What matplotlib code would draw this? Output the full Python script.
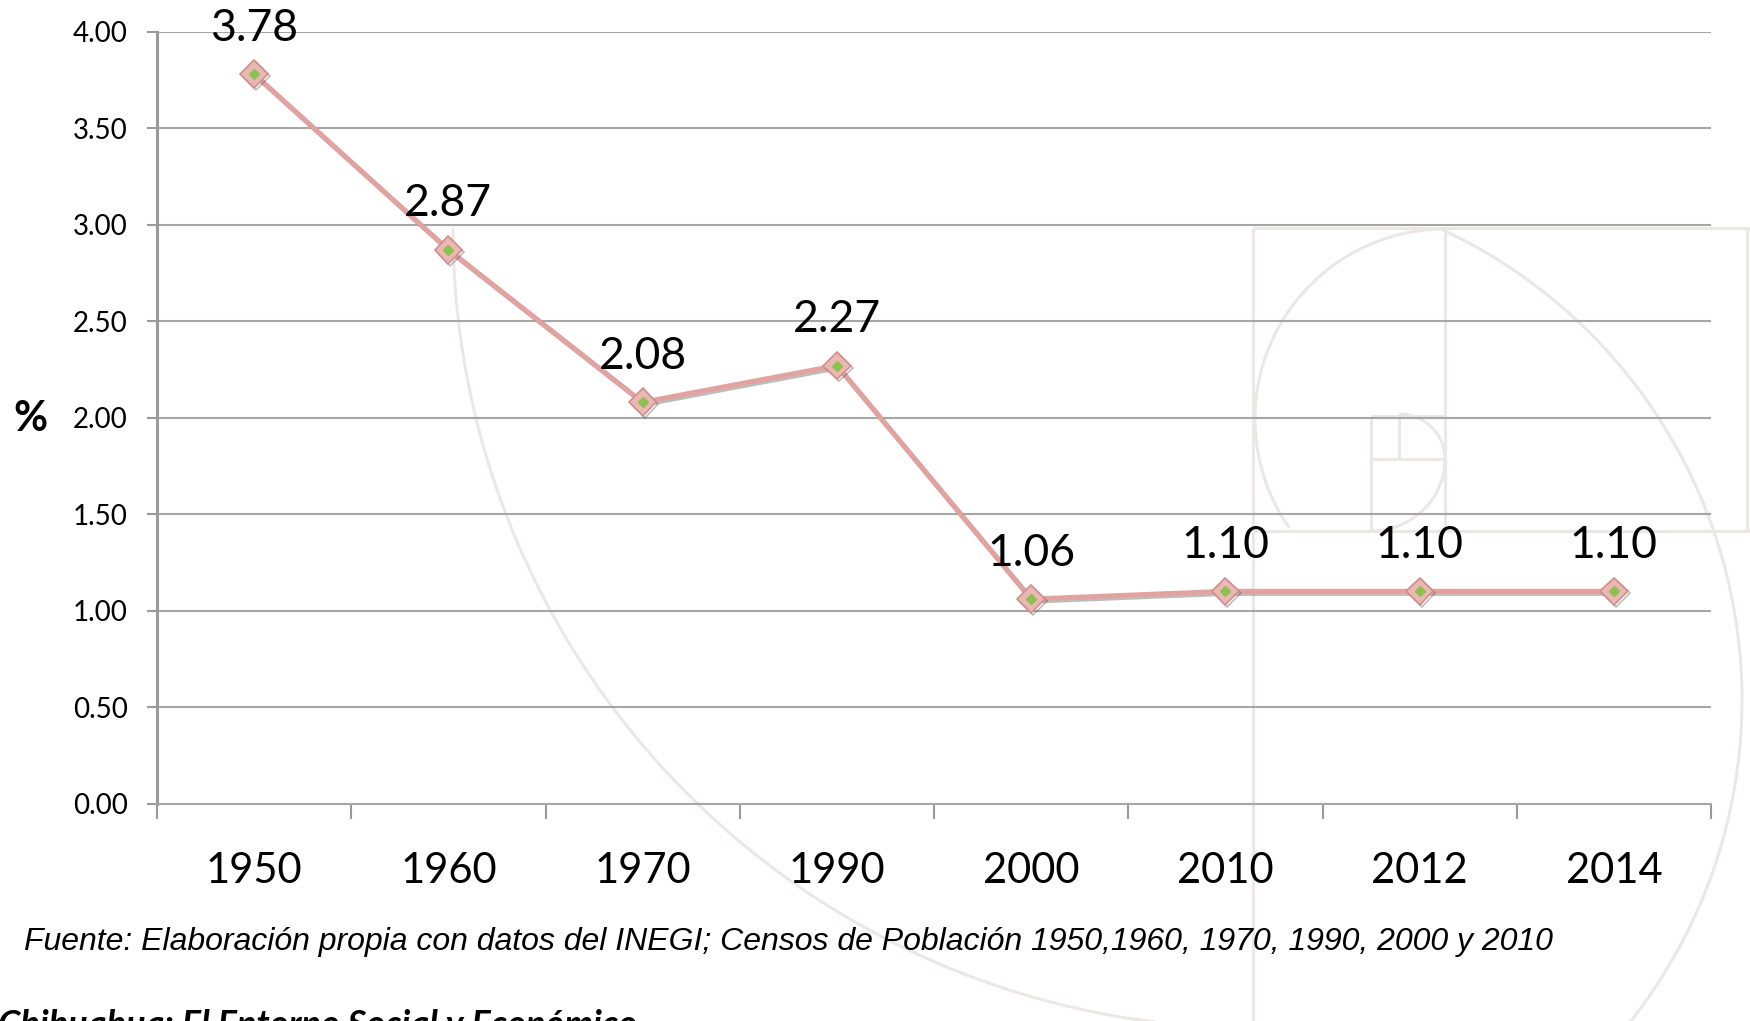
import matplotlib
matplotlib.use('Agg')
import matplotlib.pyplot as plt
import numpy as np
from matplotlib import patheffects as pe
from matplotlib import font_manager as fm

# ---------------- data ----------------
years = ['1950', '1960', '1970', '1990', '2000', '2010', '2012', '2014']
values = [3.78, 2.87, 2.08, 2.27, 1.06, 1.10, 1.10, 1.10]
value_labels = ['3.78', '2.87', '2.08', '2.27', '1.06', '1.10', '1.10', '1.10']
y_ticks = [0.0, 0.5, 1.0, 1.5, 2.0, 2.5, 3.0, 3.5, 4.0]
y_label = '%'
source_note = ('Fuente: Elaboración propia con datos del INEGI; Censos de Población '
               '1950,1960, 1970, 1990, 2000 y 2010')
footer_title = 'Chihuahua: El Entorno Social y Económico'

W, H = 1750, 1021
LABEL_FONT = 'Lato'
names = {f.name for f in fm.fontManager.ttflist}
if 'Liberation Sans Narrow' in names:
    NOTE_FONT, NOTE_SIZE = 'Liberation Sans Narrow', 26
else:
    NOTE_FONT, NOTE_SIZE = 'Liberation Sans', 23

fig = plt.figure(figsize=(W / 100, H / 100), dpi=100)
fig.patch.set_facecolor('white')

# ---------------- faint golden-spiral watermark (background) ----------------
bg = fig.add_axes([0, 0, 1, 1], zorder=0)
bg.set_xlim(0, W)
bg.set_ylim(H, 0)
bg.axis('off')
wm = dict(color='#ebe7e7', lw=2.2, solid_capstyle='butt')


def arc(cx, cy, rx, ry, t0, t1):
    t = np.radians(np.linspace(t0, t1, 200))
    bg.plot(cx + rx * np.cos(t), cy + ry * np.sin(t), **wm)


arc(1253, 228, 800, 800, 90, 180)
arc(1223, 700, 519, 519, -65, 75)
arc(1445, 419, 190, 190, 145, 270)
arc(1399, 459, 46, 45, -90, 0)
arc(1371, 459, 74, 72, 0, 90)
for x0, y0, x1, y1 in [(1253, 228, 1253, 1021), (1445, 228, 1445, 531),
                       (1747, 228, 1747, 531), (1253, 228, 1750, 228),
                       (1253, 531, 1750, 531), (1371, 416, 1371, 531),
                       (1371, 416, 1445, 416), (1399, 416, 1399, 459),
                       (1371, 459, 1445, 459)]:
    bg.plot([x0, x1], [y0, y1], **wm)

# ---------------- main chart ----------------
left, right, top, bottom = 157, 1711, 31.7, 803.6
ax = fig.add_axes([left / W, 1 - bottom / H, (right - left) / W, (bottom - top) / H], zorder=1)
ax.patch.set_alpha(0)

x = np.arange(len(years))
shadow = [pe.SimpleLineShadow(offset=(1.5, -1.5), shadow_color='#444444', alpha=0.35), pe.Normal()]
ax.plot(x, values, color='#e2a3a0', lw=3.6, marker='D', ms=14,
        mfc='#ebb7b2', mec='#cf8f8c', mew=1.2, zorder=3, path_effects=shadow)
ax.plot(x, values, ls='none', marker='D', ms=5, color='#8cc152', zorder=4)

for xi, v, lbl in zip(x, values, value_labels):
    ax.annotate(lbl, (xi, v), xytext=(0, 33), textcoords='offset points',
                ha='center', va='center', fontsize=32, family=LABEL_FONT,
                color='black', zorder=5, annotation_clip=False)

ax.set_xlim(-0.5, len(years) - 0.5)
ax.set_ylim(0, 4)
ax.set_yticks(y_ticks)
ax.set_yticklabels([f'{t:.2f}' for t in y_ticks], family=LABEL_FONT)
ax.set_xticks(x)
ax.set_xticklabels(years, family=LABEL_FONT)
ax.set_xticks(np.arange(-0.5, len(years), 1.0), minor=True)

ax.tick_params(axis='x', which='major', length=0, pad=35, labelsize=30)
ax.tick_params(axis='x', which='minor', length=11, width=1.5, color='#9a9a9a')
ax.tick_params(axis='y', which='major', length=7, width=1.5, color='#9a9a9a',
               pad=14, labelsize=20)

for s in ['top', 'right']:
    ax.spines[s].set_visible(False)
ax.spines['left'].set_color('#9a9a9a')
ax.spines['left'].set_linewidth(2.2)
ax.spines['bottom'].set_color('#a6a6a6')
ax.spines['bottom'].set_linewidth(1.5)
ax.yaxis.grid(True, color='#a6a6a6', lw=1.5)
ax.set_axisbelow(True)

fig.text(30 / W, 1 - 419 / H, y_label, ha='center', va='center',
         fontsize=30, fontweight='bold', family=LABEL_FONT)

fig.text(24.5 / W, 1 - 950 / H, source_note, ha='left', va='baseline',
         fontsize=NOTE_SIZE, style='italic', family=NOTE_FONT)

fig.text(-2 / W, 1 - 1036 / H, footer_title, ha='left', va='baseline',
         fontsize=26, fontweight='bold', style='italic', family=LABEL_FONT)

fig.savefig('out.png', dpi=100)
